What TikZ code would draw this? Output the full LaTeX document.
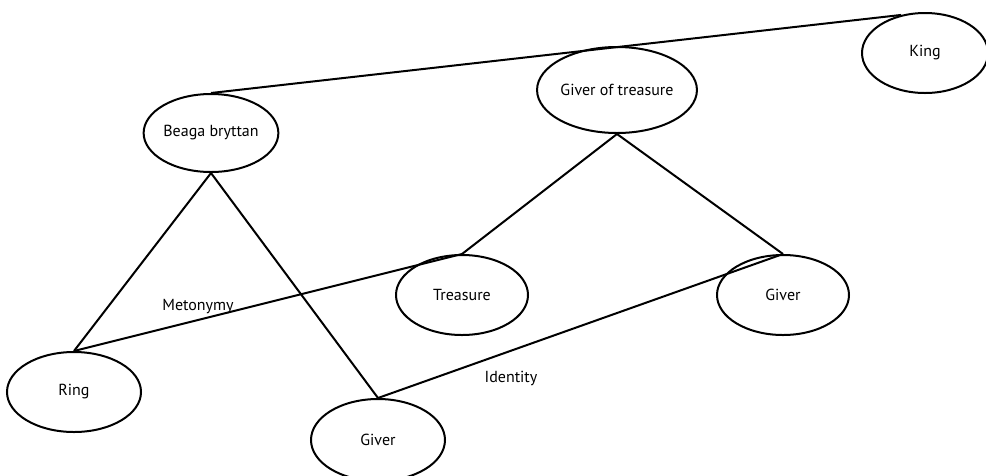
\documentclass[tikz,border=0pt]{standalone}
\usepackage{fontspec}
\setmainfont{PT Sans}
\usetikzlibrary{shapes}

\begin{document}
\begin{tikzpicture}[x=1pt, y=-1pt, line width=2pt, font=\fontsize{16}{18}\selectfont,
  term/.style={shape=ellipse, draw=black, fill=white, inner sep=0pt}]
\useasboundingbox (0,0) rectangle (986,475);
\node[term, minimum width=126pt, minimum height=80pt] (king) at (925,53) {King};
\node[term, minimum width=144pt, minimum height=86pt] (got) at (617,90) {Giver of treasure};
\node[term, minimum width=130pt, minimum height=78pt] (beaga) at (211,133) {Beaga bryttan};
\node[term, minimum width=132pt, minimum height=80pt] (treasure) at (462,295) {Treasure};
\node[term, minimum width=132pt, minimum height=80pt] (giver1) at (783,295) {Giver};
\node[term, minimum width=134pt, minimum height=80pt] (ring) at (74,392) {Ring};
\node[term, minimum width=134pt, minimum height=82pt] (giver2) at (378,440) {Giver};
\node (meto) at (198,307) {Metonymy};
\node (ident) at (511,378) {Identity};
\draw (beaga.north) -- (king.122);
\draw (got.south) -- (treasure.north); \draw (got.south) -- (giver1.north);
\draw (beaga.south) -- (ring.north); \draw (beaga.south) -- (giver2.north);
\draw (ring.north) -- (treasure.north);
\draw (giver2.north) -- (giver1.north);
\end{tikzpicture}
\end{document}
